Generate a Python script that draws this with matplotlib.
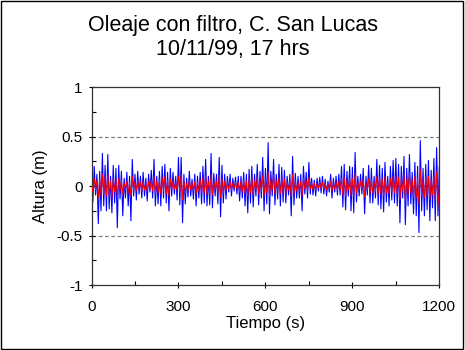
"""Oleaje con filtro, Cabo San Lucas: raw vs filtered wave height."""

import matplotlib

matplotlib.use("Agg")
import matplotlib.pyplot as plt
import numpy as np
from matplotlib.patches import Rectangle
from matplotlib.ticker import MultipleLocator

# Blue series: raw wave height (m), read segment by segment (150 s each).
blue = [
    # 0-150 s
    0.05, -0.16, 0.20, -0.09, 0.12, -0.38, 0.15, -0.25, 0.33, -0.20, 0.21, -0.25,
    0.32, -0.23, 0.10, -0.27, 0.21, -0.17, 0.18, -0.42, 0.21, -0.13, 0.15, -0.30,
    0.08, -0.12, 0.14, -0.20, 0.10, -0.35, 0.27, -0.10,
    # 150-300 s
    0.12, -0.14, 0.15, -0.08, 0.10, -0.12, 0.14, -0.10, 0.08, -0.15, 0.12, -0.06,
    0.16, -0.12, 0.27, -0.20, 0.10, -0.18, 0.15, -0.20, 0.20, -0.12, 0.22, -0.17,
    0.14, -0.25, 0.18, -0.10, 0.14, -0.08, 0.10, -0.14,
    # 300-450 s
    0.29, -0.19, 0.29, -0.37, 0.12, -0.18, 0.08, -0.11, 0.15, -0.10, 0.07, -0.13,
    0.12, -0.20, 0.10, -0.12, 0.14, -0.18, 0.20, -0.17, 0.27, -0.20, 0.10, -0.19,
    0.33, -0.22, 0.13, -0.10, 0.12, -0.18, 0.29, -0.31,
    # 450-600 s
    0.21, -0.17, 0.12, -0.13, 0.10, -0.06, 0.12, -0.10, 0.08, -0.05, 0.09, -0.08,
    0.10, -0.15, 0.10, -0.12, 0.14, -0.20, 0.12, -0.27, 0.17, -0.17, 0.20, -0.21,
    0.12, -0.10, 0.22, -0.19, 0.15, -0.12, 0.29, -0.25,
    # 600-750 s
    0.18, -0.18, 0.44, -0.28, 0.15, -0.10, 0.27, -0.19, 0.12, -0.13, 0.22, -0.20,
    0.19, -0.16, 0.16, -0.17, 0.10, -0.09, 0.12, -0.30, 0.30, -0.19, 0.13, -0.12,
    0.10, -0.12, 0.12, -0.25, 0.20, -0.08, 0.14, -0.12,
    # 750-900 s
    0.24, -0.08, 0.08, -0.09, 0.06, -0.10, 0.08, -0.05, 0.09, -0.07, 0.10, -0.08,
    0.07, -0.10, 0.05, -0.06, 0.12, -0.12, 0.08, -0.06, 0.10, -0.09, 0.12, -0.09,
    0.20, -0.21, 0.22, -0.24, 0.15, -0.10, 0.20, -0.25,
    # 900-1050 s
    0.19, -0.27, 0.34, -0.16, 0.10, -0.10, 0.12, -0.08, 0.18, -0.28, 0.10, -0.09,
    0.21, -0.17, 0.18, -0.17, 0.10, -0.12, 0.27, -0.19, 0.21, -0.23, 0.18, -0.26,
    0.24, -0.16, 0.10, -0.20, 0.20, -0.14, 0.26, -0.17,
    # 1050-1200 s
    0.28, -0.20, 0.22, -0.37, 0.20, -0.12, 0.30, -0.39, 0.18, -0.20, 0.32, -0.18,
    0.14, -0.28, 0.24, -0.30, 0.20, -0.47, 0.46, -0.25, 0.18, -0.30, 0.22, -0.24,
    0.26, -0.35, 0.16, -0.22, 0.28, -0.35, 0.39, -0.30,
    0.20,
]

# Red series: filtered wave height (m), same sampling as the blue one.
red = [
    0.02, -0.06, 0.08, -0.04, 0.06, -0.12, 0.08, -0.10, 0.12, -0.08, 0.10, -0.10,
    0.12, -0.10, 0.05, -0.12, 0.08, -0.06, 0.06, -0.10, 0.08, -0.05, 0.06, -0.08,
    0.03, -0.04, 0.05, -0.07, 0.04, -0.10, 0.10, -0.04,
    0.05, -0.05, 0.06, -0.03, 0.04, -0.05, 0.05, -0.04, 0.03, -0.06, 0.05, -0.03,
    0.06, -0.05, 0.10, -0.08, 0.05, -0.07, 0.06, -0.08, 0.09, -0.05, 0.10, -0.08,
    0.06, -0.10, 0.08, -0.04, 0.06, -0.03, 0.04, -0.05,
    0.10, -0.07, 0.12, -0.14, 0.05, -0.07, 0.03, -0.05, 0.06, -0.04, 0.03, -0.05,
    0.05, -0.08, 0.04, -0.05, 0.06, -0.07, 0.09, -0.07, 0.11, -0.09, 0.05, -0.08,
    0.12, -0.09, 0.05, -0.04, 0.05, -0.07, 0.11, -0.12,
    0.08, -0.07, 0.05, -0.05, 0.04, -0.03, 0.05, -0.04, 0.03, -0.02, 0.04, -0.03,
    0.04, -0.06, 0.05, -0.05, 0.06, -0.08, 0.05, -0.10, 0.08, -0.07, 0.09, -0.09,
    0.05, -0.04, 0.10, -0.08, 0.06, -0.05, 0.11, -0.10,
    0.07, -0.07, 0.14, -0.11, 0.06, -0.04, 0.11, -0.08, 0.05, -0.05, 0.09, -0.08,
    0.08, -0.07, 0.07, -0.07, 0.04, -0.04, 0.05, -0.11, 0.12, -0.08, 0.05, -0.05,
    0.04, -0.05, 0.05, -0.10, 0.08, -0.03, 0.06, -0.05,
    0.09, -0.03, 0.03, -0.04, 0.03, -0.04, 0.03, -0.02, 0.04, -0.03, 0.04, -0.03,
    0.03, -0.04, 0.02, -0.03, 0.05, -0.05, 0.03, -0.03, 0.04, -0.04, 0.05, -0.04,
    0.08, -0.09, 0.09, -0.10, 0.06, -0.04, 0.08, -0.10,
    0.08, -0.10, 0.13, -0.07, 0.04, -0.04, 0.05, -0.03, 0.07, -0.11, 0.04, -0.04,
    0.08, -0.07, 0.07, -0.07, 0.04, -0.05, 0.10, -0.08, 0.09, -0.09, 0.07, -0.10,
    0.10, -0.07, 0.04, -0.08, 0.08, -0.06, 0.10, -0.07,
    0.11, -0.08, 0.09, -0.14, 0.08, -0.05, 0.12, -0.15, 0.07, -0.08, 0.13, -0.07,
    0.06, -0.11, 0.10, -0.12, 0.08, -0.18, 0.17, -0.10, 0.07, -0.12, 0.09, -0.10,
    0.10, -0.14, 0.07, -0.09, 0.11, -0.14, 0.15, -0.20,
    0.00,
]

T_END = 1200  # record length (s)
title_lines = ["Oleaje con filtro, C. San Lucas", "10/11/99, 17 hrs"]
x_ticks = [0, 300, 600, 900, 1200]
y_ticks = [-1, -0.5, 0, 0.5, 1]

plt.rcParams["font.family"] = ["Liberation Sans", "DejaVu Sans"]

time = np.linspace(0, T_END, len(blue))

fig = plt.figure(figsize=(4.65, 3.5), dpi=100)
ax = fig.add_axes([0.1968, 0.1857, 0.748, 0.565])

for level in (-0.5, 0, 0.5):
    ax.axhline(level, color="#808080", lw=0.9, ls=(0, (3, 2)), zorder=1)

ax.plot(time, blue, color="#0000FF", lw=0.8, zorder=2)
ax.plot(time, red, color="#FF0000", lw=0.65, zorder=3)

ax.set_xlim(0, T_END)
ax.set_ylim(-1, 1)
ax.set_xticks(x_ticks)
ax.set_yticks(y_ticks)
ax.set_yticklabels(["-1", "-0.5", "0", "0.5", "1"])
ax.xaxis.set_minor_locator(MultipleLocator(150))
ax.yaxis.set_minor_locator(MultipleLocator(0.25))
ax.tick_params(which="major", direction="inout", length=5, width=0.8,
               labelsize=11, pad=4)
ax.tick_params(which="minor", direction="in", length=3, width=0.8)
ax.tick_params(axis="x", pad=8)
for spine in ax.spines.values():
    spine.set_linewidth(0.9)
    spine.set_color("#333333")

ax.set_xlabel("Tiempo (s)", fontsize=12, labelpad=2)
ax.set_ylabel("Altura (m)", fontsize=12, labelpad=6)

fig.text(0.5, 1 - 25 / 350, title_lines[0], ha="center", va="center", fontsize=15.5)
fig.text(0.5, 1 - 49 / 350, title_lines[1], ha="center", va="center", fontsize=15.5)

fig.patches.append(Rectangle((0.002, 0.003), 0.994, 0.994, transform=fig.transFigure,
                             fill=False, edgecolor="black", lw=1))

fig.savefig("out.png", dpi=100)
